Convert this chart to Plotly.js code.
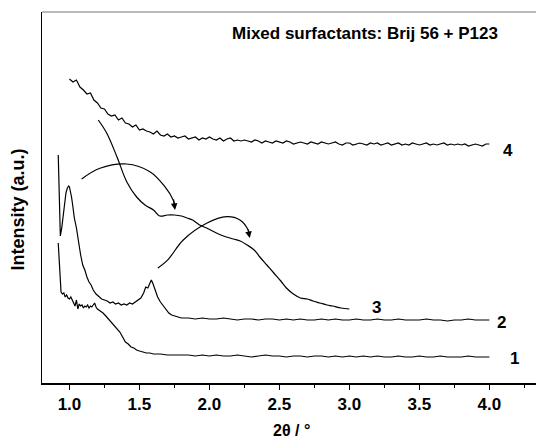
<!DOCTYPE html>
<html>
<head>
<meta charset="utf-8">
<script src="https://cdn.plot.ly/plotly-3.0.1.min.js"></script>
<style>html,body{margin:0;padding:0;background:#fff;overflow:hidden}</style>
</head>
<body>
<div id="chart" style="width:536px;height:439px"></div>
<script>
// Curve 1
const x1 = [0.92,0.925,0.93,0.935,0.94,0.95,0.96,0.97,0.98,0.99,1.0,1.01,1.02,1.03,1.04,1.05,1.06,1.07,1.08,1.09,1.10,1.11,1.12,1.13,1.14,1.15,1.16,1.17,1.18,1.19,1.20,1.22,1.24,1.26,1.28,1.30,1.32,1.34,1.36,1.38,1.40,1.42,1.44,1.46,1.48,1.50,1.525,1.55,1.575,1.60,1.65,1.70,1.75,1.80,
  1.85,1.90,1.95,2.00,2.05,2.10,2.15,2.20,2.25,2.30,2.35,2.40,2.45,2.50,2.55,2.60,2.65,2.70,2.75,2.80,2.85,2.90,2.95,3.00,3.05,3.10,3.15,3.20,3.25,3.30,3.35,3.40,3.45,3.50,3.55,3.60,3.65,3.70,3.75,3.80,3.85,3.90,3.95,4.00];
const y1 = [140,125,105,94,91,89,90,86,88,85,84,86,82,80,77,83,74,79,77,78,75,77,76,78,75,77,76,78,80,76,74,72,70,67,64,61,58,55,51,46,41,39,36,35,33,32,31,30,30,29,29,28,28,28,
  28,27,28,27,28,27,27,28,27,26,27,28,27,27,26,27,27,26,27,27,26,27,26,27,26,27,26,27,26,26,27,26,26,27,26,26,27,26,26,26,27,26,26,26];

// Curve 2
const x2 = [0.92,0.925,0.93,0.935,0.945,0.955,0.965,0.975,0.985,0.995,1.0,1.005,1.015,1.025,1.035,1.05,1.065,1.08,1.095,1.11,1.125,1.14,1.155,1.17,1.19,1.21,1.23,1.25,1.27,1.29,1.31,1.33,1.35,1.37,1.39,1.41,1.43,1.45,1.47,1.49,1.51,1.53,1.545,1.56,1.575,1.585,1.595,1.61,1.63,1.65,1.67,1.69,1.71,1.73,1.75,1.77,1.80,
  1.85,1.90,1.95,2.00,2.05,2.10,2.15,2.20,2.25,2.30,2.35,2.40,2.45,2.50,2.55,2.60,2.65,2.70,2.75,2.80,2.85,2.90,2.95,3.00,3.05,3.10,3.15,3.20,3.25,3.30,3.35,3.40,3.45,3.50,3.55,3.60,3.65,3.70,3.75,3.80,3.85,3.90,3.95,4.00];
const y2 = [228,200,170,147,155,168,180,190,195,197,196,193,186,176,165,155,140,128,118,113,106,101,98,93,89,86,84,83,82,80,81,79,80,78,79,78,80,79,81,83,85,90,96,95,99,103,100,93,86,81,77,73,70,68,67,66,65,
  65,64,65,64,64,65,64,63,64,64,63,64,64,63,64,63,64,63,63,64,63,64,63,63,64,63,63,64,63,63,64,63,63,63,64,63,63,62,63,63,64,63,63,63];

// Curve 3
const x3 = [1.206,1.266,1.34,1.41,1.48,1.54,1.60,1.646,1.70,1.75,1.80,1.84,1.88,1.93,1.98,2.05,2.10,2.17,2.22,2.27,2.32,2.36,2.41,2.46,2.51,2.55,2.60,2.65,2.70,2.74,2.79,2.84,2.88,2.94,3.0];
const y3 = [263,250,226,201,186,178,173,167,168,168,167,165,163,158,155,150,147,144,142,138,133,126,118,110,102,95,89,85,84,82,80,78,77,75,74];

// Curve 4
const x4 = [1.000,1.025,1.050,1.075,1.100,1.125,1.150,1.175,1.200,1.225,
  1.250,1.275,1.300,1.325,1.350,1.375,1.400,1.425,1.450,1.475,
  1.500,1.525,1.550,1.575,1.600,1.625,1.650,1.675,1.700,1.725,
  1.750,1.775,1.800,1.825,1.850,1.875,1.900,1.925,1.950,1.975,
  2.000,2.025,2.050,2.075,2.100,2.125,2.150,2.175,2.200,2.225,
  2.250,2.275,2.300,2.325,2.350,2.375,2.400,2.425,2.450,2.475,
  2.500,2.525,2.550,2.575,2.600,2.625,2.650,2.675,2.700,2.725,
  2.750,2.775,2.800,2.825,2.850,2.875,2.900,2.925,2.950,2.975,
  3.000,3.025,3.050,3.075,3.100,3.125,3.150,3.175,3.200,3.225,
  3.250,3.275,3.300,3.325,3.350,3.375,3.400,3.425,3.450,3.475,
  3.500,3.525,3.550,3.575,3.600,3.625,3.650,3.675,3.700,3.725,
  3.750,3.775,3.800,3.825,3.850,3.875,3.900,3.925,3.950,3.975,
  4.000];
const y4 = [304,301,303,296,293,289,290,283,280,275,
  274,269,267,268,263,265,260,259,256,258,
  253,254,252,251,249,252,248,247,249,246,
  247,245,246,247,244,245,246,243,245,244,
  246,244,243,245,242,244,245,242,243,242,
  243,242,241,243,242,240,242,241,240,242,
  241,240,242,241,239,240,241,240,239,241,
  240,239,241,240,239,240,241,239,238,240,
  240,238,239,240,239,238,240,239,240,238,
  239,240,238,239,240,238,239,238,240,239,
  238,239,240,238,239,238,239,240,238,239,
  238,239,238,239,237,238,239,238,237,239,
  239];

// Curved arrows (guides)
const arc1x = [1.087,1.218,1.409,1.575,1.682,1.741,1.754];
const arc1y = [204,214.7,219,211.3,196.3,183,176];
const arc2x = [1.632,1.706,1.813,1.98,2.123,2.218,2.277,2.286];
const arc2y = [115,123.7,143,159.7,166.3,163,153,148];

const curveLabels = ['1','2','3','4'];
const labelX = [4.182,4.089,3.196,4.132];
const labelY = [25,61,76,233];
const tickVals = [1.0,1.5,2.0,2.5,3.0,3.5,4.0];
const tickText = ['1.0','1.5','2.0','2.5','3.0','3.5','4.0'];

const FONT = 'Liberation Sans, Arial, Helvetica, sans-serif';
const lineStyle = {color:'#000', width:1.2};

const traces = [
  {x:x1, y:y1, mode:'lines', line:lineStyle, hoverinfo:'skip'},
  {x:x2, y:y2, mode:'lines', line:lineStyle, hoverinfo:'skip'},
  {x:x3, y:y3, mode:'lines', line:Object.assign({shape:'spline', smoothing:1}, lineStyle), hoverinfo:'skip'},
  {x:x4, y:y4, mode:'lines', line:lineStyle, hoverinfo:'skip'},
  {x:arc1x, y:arc1y, mode:'lines', line:{color:'#000', width:1.2, shape:'spline', smoothing:1}, hoverinfo:'skip'},
  {x:arc2x, y:arc2y, mode:'lines', line:{color:'#000', width:1.2, shape:'spline', smoothing:1}, hoverinfo:'skip'}
];

const annotations = curveLabels.map((t,i)=>({
  x:labelX[i], y:labelY[i], xref:'x', yref:'y', text:'<b>'+t+'</b>', showarrow:false,
  font:{family:FONT, size:17, color:'#000'}
}));
annotations.push({
  x:0.927, y:0.943, xref:'paper', yref:'paper', xanchor:'right', yanchor:'middle',
  text:'<b>Mixed surfactants: Brij 56 + P123</b>', showarrow:false,
  font:{family:FONT, size:17, color:'#000'}
});
// axis titles as positioned text
annotations.push({
  x:-0.0466, y:0.4677, xref:'paper', yref:'paper', xanchor:'center', yanchor:'middle', textangle:-90,
  text:'<b>Intensity (a.u.)</b>', showarrow:false, font:{family:FONT, size:18, color:'#000'}
});
annotations.push({
  x:0.506, y:-0.127, xref:'paper', yref:'paper', xanchor:'center', yanchor:'middle',
  text:'<b>2θ / °</b>', showarrow:false, font:{family:FONT, size:16, color:'#000'}
});
// arrowheads
annotations.push({x:arc1x[6], y:arc1y[6]-3, ax:arc1x[5]+0.002, ay:arc1y[5]+2, xref:'x', yref:'y', axref:'x', ayref:'y',
  showarrow:true, arrowhead:2, arrowsize:1.1, arrowwidth:1.2, arrowcolor:'#000', text:''});
annotations.push({x:arc2x[7]+0.002, y:arc2y[7]-3, ax:arc2x[6]-0.003, ay:arc2y[6]+2, xref:'x', yref:'y', axref:'x', ayref:'y',
  showarrow:true, arrowhead:2, arrowsize:1.1, arrowwidth:1.2, arrowcolor:'#000', text:''});

const layout = {
  width:536, height:439,
  margin:{l:42, r:0, t:12, b:56},
  paper_bgcolor:'#fff', plot_bgcolor:'#fff',
  showlegend:false,
  font:{family:FONT, color:'#000'},
  xaxis:{
    range:[0.804, 4.333], showgrid:false, zeroline:false,
    showline:true, linecolor:'#000', linewidth:1.5,
    ticks:'outside', ticklen:5, tickwidth:1.2, tickcolor:'#000',
    tickmode:'array', tickvals:tickVals, ticktext:tickText,
    minor:{tickmode:'linear', tick0:0, dtick:0.25, ticks:'outside', ticklen:3, tickwidth:1, tickcolor:'#000'},
    tickfont:{family:FONT, size:17, color:'#000', weight:'bold'}
  },
  yaxis:{
    range:[0, 371], showgrid:false, zeroline:false,
    showline:true, linecolor:'#000', linewidth:1.5,
    showticklabels:false, ticks:''
  },
  shapes:[
    {type:'line', xref:'paper', yref:'paper', x0:0, x1:1, y0:1, y1:1, line:{color:'#777', width:1.2}}
  ],
  annotations:annotations
};

Plotly.newPlot('chart', traces, layout, {staticPlot:true, displayModeBar:false});
</script>
</body>
</html>
